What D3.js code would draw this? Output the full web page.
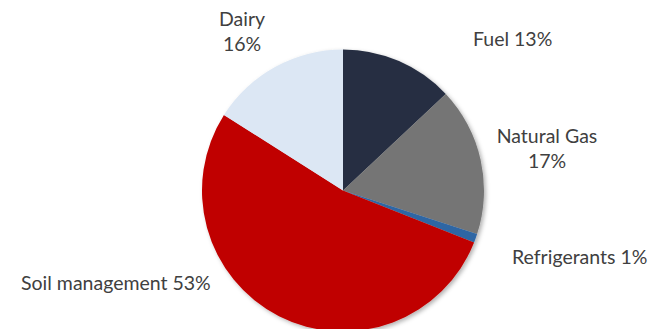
<!DOCTYPE html>
<html>
<head>
<meta charset="utf-8">
<script src="https://cdn.jsdelivr.net/npm/d3@7"></script>
<style>
  html, body { margin: 0; padding: 0; background: #fff; }
  svg { display: block; }
  text { font-family: Lato, "Open Sans", sans-serif; font-size: 19.5px; fill: #404040; }
</style>
</head>
<body>
<svg id="chart" width="651" height="329"></svg>
<script>
// Emission sources, clockwise from 12 o'clock
const categories = ["Fuel", "Natural Gas", "Refrigerants", "Soil management", "Dairy"];
const shares = [13, 17, 1, 53, 16];
const colors = ["#262f43", "#757575", "#2e66a4", "#c00000", "#dce7f4"];

// Label placement: lines of text, anchor point and text-anchor
const labelLayout = {
  "Fuel":            { lines: ["Fuel 13%"], x: 473, y: 46, anchor: "start" },
  "Natural Gas":     { lines: ["Natural Gas", "17%"], x: 547, y: 143, anchor: "middle" },
  "Refrigerants":    { lines: ["Refrigerants 1%"], x: 512, y: 264, anchor: "start" },
  "Soil management": { lines: ["Soil management 53%"], x: 21, y: 290, anchor: "start" },
  "Dairy":           { lines: ["Dairy", "16%"], x: 242, y: 26, anchor: "middle" }
};

const svg = d3.select("#chart");
const cx = 343, cy = 190.5, radius = 141;

const defs = svg.append("defs");
const shadow = defs.append("filter").attr("id", "shadow")
  .attr("x", "-10%").attr("y", "-10%").attr("width", "120%").attr("height", "120%");
shadow.append("feDropShadow")
  .attr("dx", 2).attr("dy", 2).attr("stdDeviation", 2)
  .attr("flood-color", "#000").attr("flood-opacity", 0.3);

const data = categories.map((c, i) => ({ category: c, value: shares[i], color: colors[i] }));

const pie = d3.pie().value(d => d.value).sort(null);
const arc = d3.arc().innerRadius(0).outerRadius(radius);

const g = svg.append("g").attr("transform", `translate(${cx},${cy})`);
g.append("g").attr("filter", "url(#shadow)")
  .selectAll("path")
  .data(pie(data))
  .join("path")
  .attr("d", arc)
  .attr("fill", d => d.data.color);

const labels = svg.append("g");
data.forEach(d => {
  const L = labelLayout[d.category];
  const t = labels.append("text")
    .attr("x", L.x).attr("y", L.y)
    .attr("text-anchor", L.anchor);
  L.lines.forEach((line, i) => {
    t.append("tspan").attr("x", L.x).attr("dy", i === 0 ? 0 : 25).text(line);
  });
});
</script>
</body>
</html>
